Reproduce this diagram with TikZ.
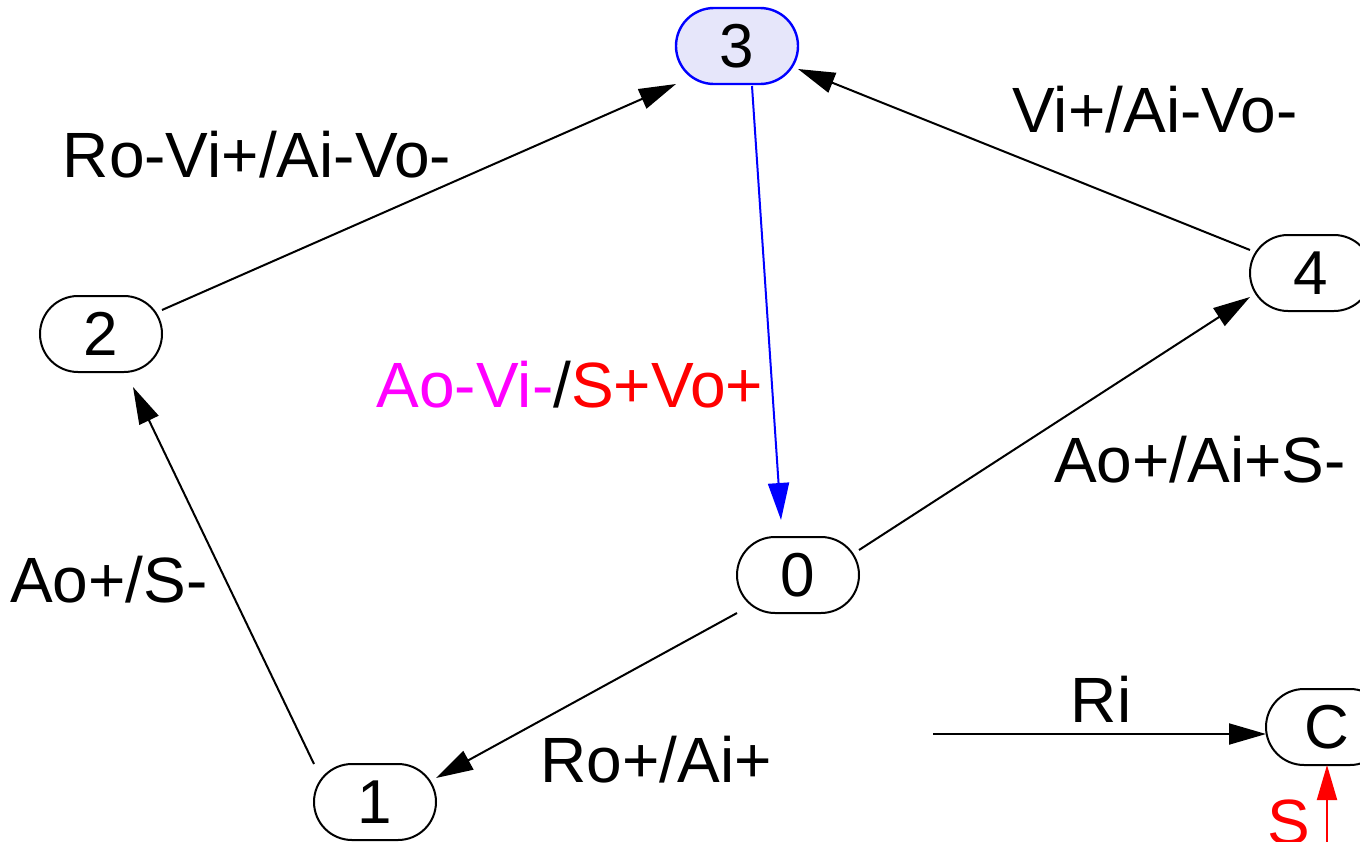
\documentclass[tikz,border=0pt]{standalone}
\usepackage{fontspec}
\setmainfont{Liberation Sans}
\usetikzlibrary{arrows.meta,calc}
\definecolor{nodefill}{RGB}{230,230,250}
\definecolor{mag}{RGB}{255,0,255}
\definecolor{myred}{RGB}{255,0,0}
\definecolor{myblue}{RGB}{0,0,255}
\begin{document}
\begin{tikzpicture}[x=0.5pt,y=-0.5pt,
  st/.style={draw=black,line width=1pt,rectangle,rounded corners=19pt,
    minimum width=61pt,minimum height=38pt,inner sep=0pt,outer sep=0pt,
    font=\fontsize{31pt}{37pt}\selectfont},
  lbl/.style={inner sep=0pt,anchor=base,font=\fontsize{32pt}{38pt}\selectfont},
  edge/.style={line width=1pt,-{Triangle[length=18.5pt,width=10.5pt]}}]
\useasboundingbox (0,0) rectangle (1360,841);
% nodes
\node[st,draw=myblue,fill=nodefill,line width=1.2pt] (n3) at (737,46) {3};
\node[st] (n2) at (101,334) {2};
\node[st] (n4) at (1311,273) {4};
\node[st] (n0) at (798,575) {0};
\node[st] (n1) at (375,802) {1};
\node[st] (nC) at (1327,727) {C};
\coordinate (ri) at (933,734);
\coordinate (sin) at (1327,845);
% labels
\node[lbl] (l23) at (257,177) {Ro-Vi+/Ai-Vo-};
\node[lbl] (l43) at (1155,132) {Vi+/Ai-Vo-};
\node[lbl] (l30) at (570,407) {\textcolor{mag}{Ao-Vi-}/\textcolor{myred}{S+Vo+}};
\node[lbl] (l04) at (1200,482) {Ao+/Ai+S-};
\node[lbl] (l12) at (109,602) {Ao+/S-};
\node[lbl] (l01) at (656,782) {Ro+/Ai+};
\node[lbl] (lri) at (1101,722) {Ri};
\node[lbl,text=myred] (ls) at (1289,844) {S};
% connectors
\draw[edge] (n1.north west) -- ($(n2.south)+(32,15)$);
\draw[edge] ($(n2.east)+(0,-24)$) -- (n3.south west);
\draw[edge] ($(n4.west)+(0,-23)$) -- ($(n3.east)+(0,23)$);
\draw[edge] ($(n0.east)+(0,-25)$) -- ($(n4.west)+(0,24)$);
\draw[edge,draw=myblue,fill=myblue] ($(n3.south)+(15,2)$) -- ($(n0.north)+(-17,-17)$);
\draw[edge] (n0.south west) -- ($(n1.east)+(0,-24)$);
\draw[edge] (ri) -- ($(nC.west)+(0,7)$);
\draw[edge,draw=myred,fill=myred,-{Triangle[length=17.5pt,width=10pt]}] (sin) -- (nC.south);
\end{tikzpicture}
\end{document}
